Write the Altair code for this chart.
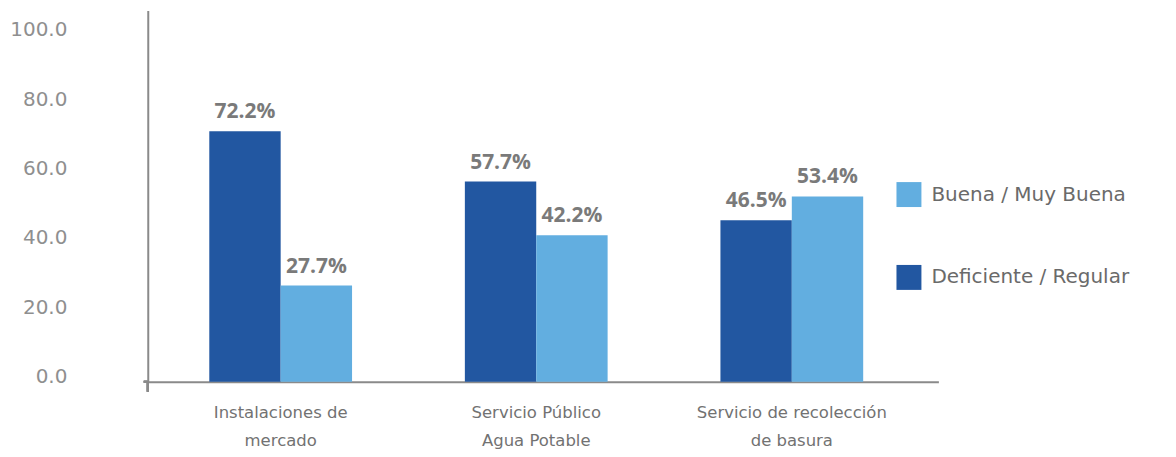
import altair as alt
import pandas as pd

categories = ["Instalaciones de|mercado", "Servicio Público|Agua Potable", "Servicio de recolección|de basura"]
series = ["Deficiente / Regular", "Buena / Muy Buena"]
deficiente = [72.2, 57.7, 46.5]
buena = [27.7, 42.2, 53.4]
y_ticks = [0, 20, 40, 60, 80, 100]

rows = []
for i, c in enumerate(categories):
    rows.append({"cat": c, "serie": series[0], "value": deficiente[i]})
    rows.append({"cat": c, "serie": series[1], "value": buena[i]})
df = pd.DataFrame(rows)

FONT = "DejaVu Sans"
LBLFONT = "Open Sans"
DARK = "#2257A1"
LIGHT = "#62AEE0"

x_enc = alt.X("cat:N", sort=categories, title=None,
              scale=alt.Scale(paddingInner=0.4414, paddingOuter=0.2675, align=0.45),
              axis=alt.Axis(labelExpr="split(datum.label, '|')", labelAngle=0,
                            labelFontSize=16.5, labelColor="#727272", labelFont=FONT,
                            labelLineHeight=28, labelPadding=23, ticks=False,
                            domainColor="#8a8a8a", domainWidth=2, labelBaseline="top",
                            labelLimit=300))
xoff = alt.XOffset("serie:N", sort=series)
y_enc = alt.Y("value:Q", title=None,
              scale=alt.Scale(domain=[0, 107], nice=False),
              axis=alt.Axis(values=y_ticks, format=".1f", grid=False, ticks=False,
                            labelFontSize=20, labelColor="#8f8f8f", labelFont=FONT,
                            labelPadding=81, labelOffset=-5, domainColor="#8a8a8a",
                            domainWidth=2))

color = alt.Color("serie:N",
                  scale=alt.Scale(domain=["Buena / Muy Buena", "Deficiente / Regular"],
                                  range=[LIGHT, DARK]),
                  legend=alt.Legend(title=None, orient="none", legendX=750, legendY=172,
                                    symbolType="square", symbolSize=625,
                                    symbolStrokeWidth=0, labelFontSize=20,
                                    labelColor="#6a6a6a", labelFont=FONT,
                                    rowPadding=58, labelOffset=10, labelLimit=400))

base = alt.Chart(df)
bars = base.mark_bar(width=71.5).encode(x=x_enc, xOffset=xoff, y=y_enc, color=color)
labels = base.transform_calculate(
    lbl="format(datum.value, '.1f') + '%'"
).mark_text(baseline="bottom", dy=-9, fontSize=21, fontWeight="bold",
            color="#7a7a7a", font=LBLFONT).encode(
    x=alt.X("cat:N", sort=categories), xOffset=xoff, y="value:Q", text="lbl:N")

ext_v = alt.Chart(df).mark_rule(color="#8a8a8a", strokeWidth=2).encode(
    x=alt.value(0), y=alt.value(372), y2=alt.value(382))
ext_h = alt.Chart(df).mark_rule(color="#8a8a8a", strokeWidth=2).encode(
    x=alt.value(-4), x2=alt.value(0), y=alt.value(372))

chart = alt.layer(bars, labels, ext_v, ext_h).properties(
    width=792, height=372,
    autosize=alt.AutoSizeParams(type="none"),
    padding={"left": 140, "top": 2, "right": 230, "bottom": 70},
).configure(background="white").configure_view(strokeWidth=0, stroke="transparent")

chart.save("out.html", embed_options={"renderer": "svg", "actions": False})
